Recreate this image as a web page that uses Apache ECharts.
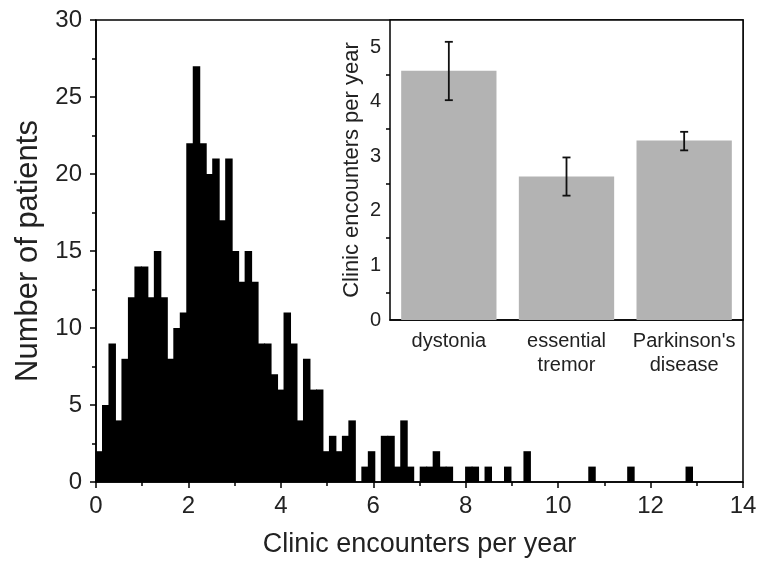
<!DOCTYPE html>
<html>
<head>
<meta charset="utf-8">
<title>Clinic encounters per year</title>
<script src="https://cdn.jsdelivr.net/npm/echarts@6/dist/echarts.min.js"></script>
<style>
  html, body { margin: 0; padding: 0; background: #fff; }
  #chart { width: 761px; height: 568px; }
</style>
</head>
<body>
<div id="chart"></div>
<script>
// histogram: bin width (years) and patient counts per bin, starting at 0
const binWidth = 0.1403
const counts = [
  2, 5, 9, 4, 8, 12, 14, 14, 12, 15, 12, 8, 10, 11,
  22, 27, 22, 20, 21, 17, 21, 15, 13, 15, 13, 9, 9, 7,
  6, 11, 9, 4, 8, 6, 6, 2, 3, 2, 3, 4, 0, 1,
  2, 0, 3, 3, 1, 4, 1, 0, 1, 1, 2, 1, 1, 0,
  0, 1, 1, 0, 1, 0, 0, 1, 0, 0, 2, 0, 0, 0,
  0, 0, 0, 0, 0, 0, 1, 0, 0, 0, 0, 0, 1, 0,
  0, 0, 0, 0, 0, 0, 0, 1
]

// inset: mean encounters per year by diagnosis, with error bar ends
const groups = ['dystonia', 'essential\ntremor', "Parkinson's\ndisease"]
const means = [4.57, 2.63, 3.29]
const errLow = [4.03, 2.28, 3.11]
const errHigh = [5.1, 2.98, 3.45]

const font = "'Liberation Sans', Arial, sans-serif"
const black = '#000'

const histData = counts
  .map((c, i) => [i * binWidth, (i + 1) * binWidth, c])
  .filter(d => d[2] > 0)

const errData = groups.map((g, i) => [i, errLow[i], errHigh[i]])

const chart = echarts.init(document.getElementById('chart'))

const option = {
  animation: false,
  backgroundColor: '#fff',
  textStyle: { fontFamily: font },
  grid: [
    {
      left: 96, right: 18, top: 20, bottom: 86,
      show: true, borderColor: black, borderWidth: 1.5,
      backgroundColor: 'transparent'
    },
    {
      left: 390, right: 18, top: 20, bottom: 248,
      show: true, borderColor: black, borderWidth: 1.5,
      backgroundColor: '#fff'
    }
  ],
  xAxis: [
    {
      gridIndex: 0,
      type: 'value',
      min: 0, max: 14, interval: 2,
      name: 'Clinic encounters per year',
      nameLocation: 'middle',
      nameGap: 49,
      nameTextStyle: { fontSize: 27, color: '#222', fontFamily: font },
      axisLine: { lineStyle: { color: black, width: 1.5 } },
      axisTick: { length: 6, lineStyle: { color: black, width: 1.5 } },
      minorTick: { show: true, splitNumber: 2, length: 4, lineStyle: { color: black, width: 1.5 } },
      axisLabel: { fontSize: 24, color: '#222', margin: 12, fontFamily: font },
      splitLine: { show: false }
    },
    {
      gridIndex: 1,
      type: 'category',
      data: groups,
      axisLine: { lineStyle: { color: black, width: 1.5 } },
      axisTick: { alignWithLabel: true, length: 6, lineStyle: { color: black, width: 1.5 } },
      axisLabel: { interval: 0, fontSize: 20, color: '#222', margin: 9, lineHeight: 24, fontFamily: font },
      splitLine: { show: false }
    }
  ],
  yAxis: [
    {
      gridIndex: 0,
      type: 'value',
      min: 0, max: 30, interval: 5,
      name: 'Number of patients',
      nameLocation: 'middle',
      nameGap: 52,
      nameTextStyle: { fontSize: 31, color: '#222', fontFamily: font },
      axisLine: { lineStyle: { color: black, width: 1.5 } },
      axisTick: { length: 6, lineStyle: { color: black, width: 1.5 } },
      minorTick: { show: true, splitNumber: 2, length: 4, lineStyle: { color: black, width: 1.5 } },
      axisLabel: { fontSize: 24, color: '#222', margin: 14, fontFamily: font },
      splitLine: { show: false }
    },
    {
      gridIndex: 1,
      type: 'value',
      min: 0, max: 5.5, interval: 1,
      name: 'Clinic encounters per year',
      nameLocation: 'middle',
      nameGap: 27,
      nameTextStyle: { fontSize: 22, color: '#222', fontFamily: font },
      axisLine: { lineStyle: { color: black, width: 1.5 } },
      axisTick: { length: 6, lineStyle: { color: black, width: 1.5 } },
      minorTick: { show: true, splitNumber: 2, length: 4, lineStyle: { color: black, width: 1.5 } },
      axisLabel: { fontSize: 20, color: '#222', margin: 9, showMaxLabel: false, fontFamily: font },
      splitLine: { show: false }
    }
  ],
  series: [
    {
      type: 'custom',
      xAxisIndex: 0,
      yAxisIndex: 0,
      data: histData,
      encode: { x: [0, 1], y: 2 },
      renderItem: (params, api) => {
        const p0 = api.coord([api.value(0), api.value(2)])
        const p1 = api.coord([api.value(1), 0])
        // widen each rect a little so neighbouring bins join without a seam
        return {
          type: 'rect',
          shape: { x: p0[0] - 0.5, y: p0[1], width: p1[0] - p0[0] + 1, height: p1[1] - p0[1] },
          style: { fill: black }
        }
      }
    },
    {
      type: 'bar',
      xAxisIndex: 1,
      yAxisIndex: 1,
      data: means,
      barWidth: '81%',
      itemStyle: { color: '#b3b3b3' }
    },
    {
      type: 'custom',
      xAxisIndex: 1,
      yAxisIndex: 1,
      data: errData,
      encode: { x: 0, y: [1, 2] },
      z: 5,
      renderItem: (params, api) => {
        const lo = api.coord([api.value(0), api.value(1)])
        const hi = api.coord([api.value(0), api.value(2)])
        const cap = 4
        const style = { stroke: '#111', lineWidth: 1.8 }
        return {
          type: 'group',
          children: [
            { type: 'line', shape: { x1: lo[0], y1: lo[1], x2: hi[0], y2: hi[1] }, style },
            { type: 'line', shape: { x1: lo[0] - cap, y1: lo[1], x2: lo[0] + cap, y2: lo[1] }, style },
            { type: 'line', shape: { x1: hi[0] - cap, y1: hi[1], x2: hi[0] + cap, y2: hi[1] }, style }
          ]
        }
      }
    }
  ]
}

chart.setOption(option)

window.addEventListener('resize', () => {
  chart.resize()
})
</script>
</body>
</html>
